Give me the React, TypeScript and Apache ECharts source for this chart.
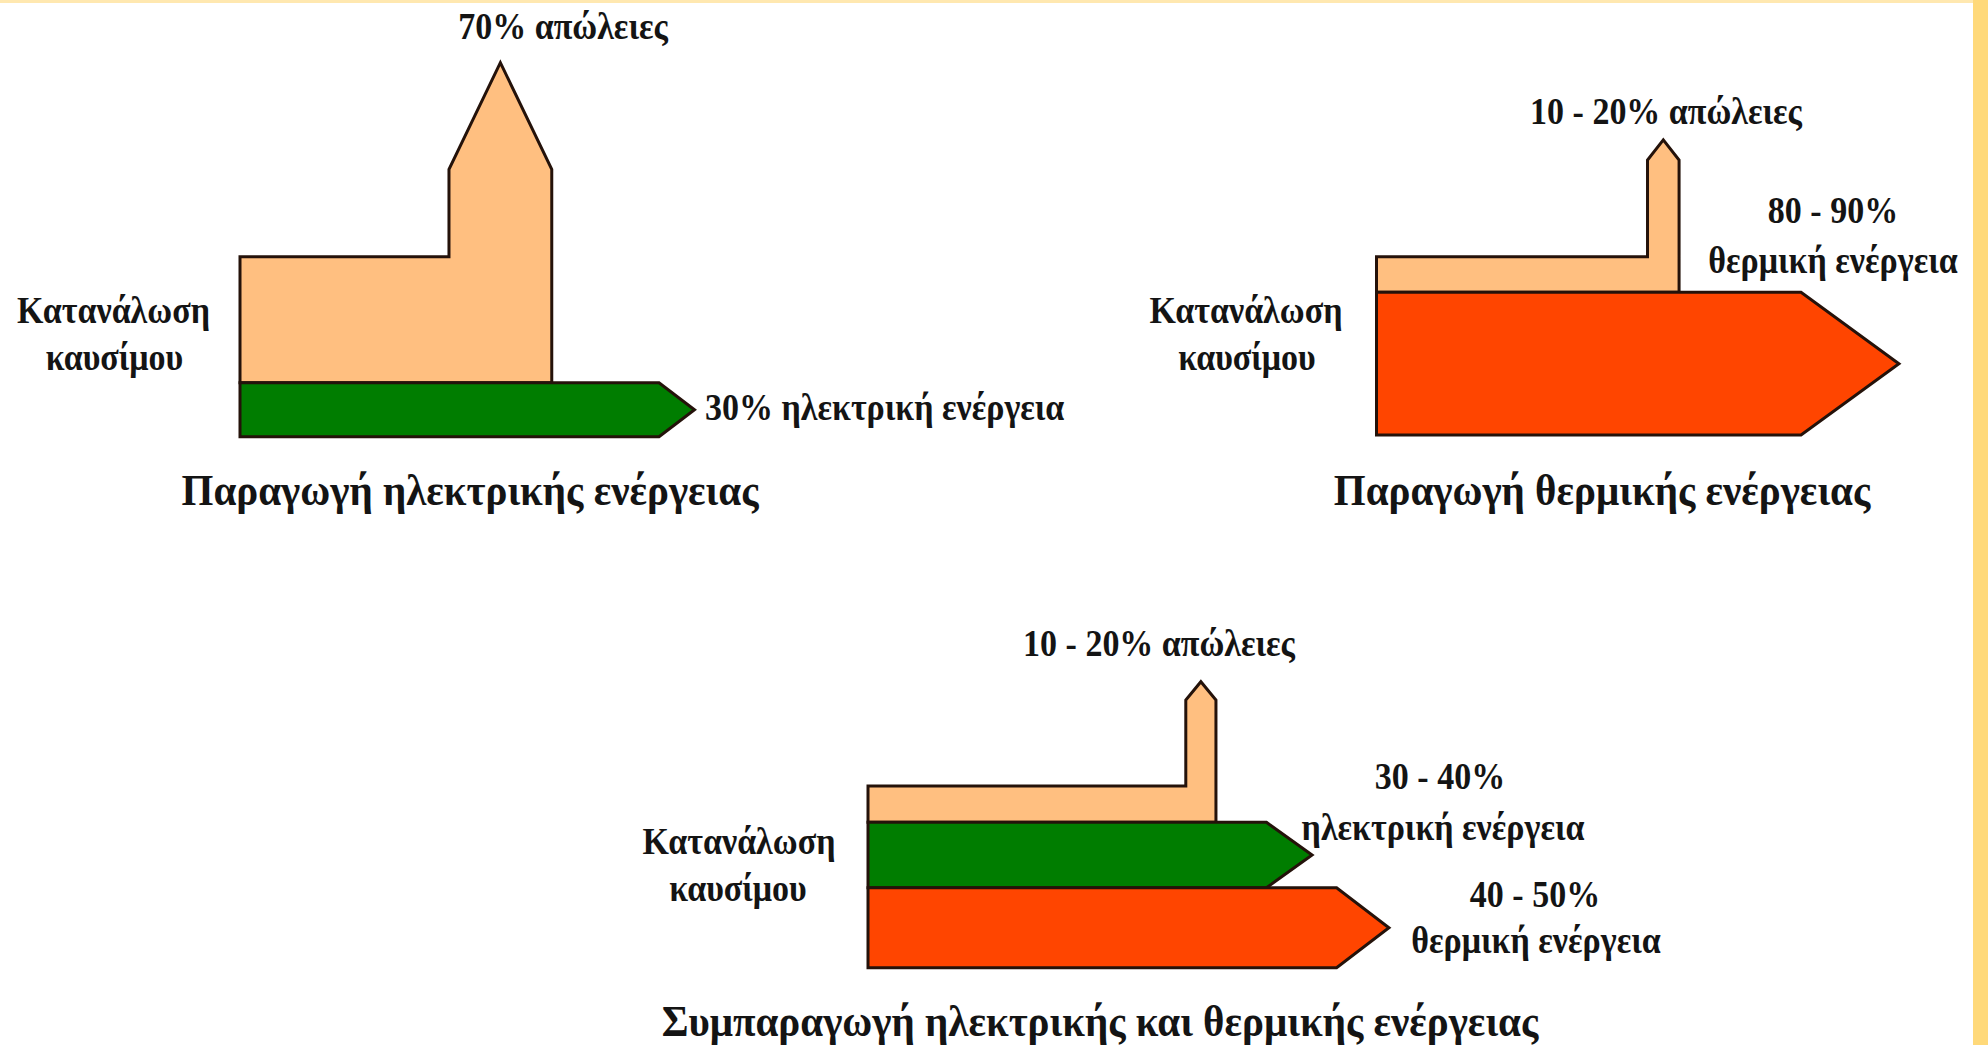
import React, { useEffect, useRef } from "react";
import * as echarts from "echarts";

// ---------------- DATA ----------------
const diagramTitles = [
  "Παραγωγή ηλεκτρικής ενέργειας",
  "Παραγωγή θερμικής ενέργειας",
  "Συμπαραγωγή ηλεκτρικής και θερμικής ενέργειας",
];
const fuelLabelLines = ["Κατανάλωση", "καυσίμου"];

// flow kinds: 0 = losses, 1 = electric energy, 2 = thermal energy
const d1Kinds = [0, 1];
const d1Shares = [70, 30];
const d1Labels = [["70% απώλειες"], ["30% ηλεκτρική ενέργεια"]];

const d2Kinds = [0, 2];
const d2Shares = [20, 80];
const d2Labels = [["10 - 20% απώλειες"], ["80 - 90%", "θερμική ενέργεια"]];

const d3Kinds = [0, 1, 2];
const d3Shares = [20, 36, 44];
const d3Labels = [
  ["10 - 20% απώλειες"],
  ["30 - 40%", "ηλεκτρική ενέργεια"],
  ["40 - 50%", "θερμική ενέργεια"],
];

// ---------------- STYLE / LAYOUT ----------------
const KIND_COLORS = ["#FFBF80", "#007D00", "#FF4500"];
const STROKE = "#24120a";
const TEXT_COLOR = "#141414";
const FONT_FAMILY = '"Liberation Serif", "DejaVu Serif", serif';
const LABEL_SIZE = 34;
const TITLE_SIZE = 41;
const TEXT_SCALE_Y = 1.1;

type Layout = {
  left: number;
  top: number;
  unit: number;
  tower: { stepX: number; rightX: number; shoulderY: number; peakY: number };
  arrows: (number[] | null)[];
  labelPos: number[][][];
  labelAlign: string[];
  fuelPos: number[][];
  titlePos: number[];
};

const layouts: Layout[] = [
  {
    left: 240,
    top: 256.7,
    unit: 1.8,
    tower: { stepX: 116.1, rightX: 173.2, shoulderY: 148.5, peakY: 207.8 },
    arrows: [null, [232.8, 252.5]],
    labelPos: [[[563, 26]], [[705, 407]]],
    labelAlign: ["center", "left"],
    fuelPos: [
      [113.5, 310],
      [114.5, 357],
    ],
    titlePos: [470, 490],
  },
  {
    left: 1376.5,
    top: 256.7,
    unit: 1.783,
    tower: { stepX: 152, rightX: 169.7, shoulderY: 154.2, peakY: 165.5 },
    arrows: [null, [238.1, 293]],
    labelPos: [
      [[1666, 111]],
      [
        [1833, 210],
        [1833, 260],
      ],
    ],
    labelAlign: ["center", "center"],
    fuelPos: [
      [1246, 310],
      [1247, 357],
    ],
    titlePos: [1602, 490],
  },
  {
    left: 868,
    top: 786,
    unit: 1.817,
    tower: { stepX: 174.9, rightX: 191.5, shoulderY: 147.3, peakY: 157.4 },
    arrows: [null, [219.3, 244.4], [257.9, 286.7]],
    labelPos: [
      [[1159, 643]],
      [
        [1440, 776],
        [1443, 827],
      ],
      [
        [1535, 894],
        [1536, 940],
      ],
    ],
    labelAlign: ["center", "center", "center"],
    fuelPos: [
      [739, 841],
      [738, 888],
    ],
    titlePos: [1100, 1021],
  },
];

const diagrams = [
  { kinds: d1Kinds, shares: d1Shares, labels: d1Labels },
  { kinds: d2Kinds, shares: d2Shares, labels: d2Labels },
  { kinds: d3Kinds, shares: d3Shares, labels: d3Labels },
];

const X_MAX = 300;

function textEl(txt: string, x: number, y: number, size: number, align: string) {
  return {
    type: "text",
    x,
    y,
    z: 10,
    scaleY: TEXT_SCALE_Y,
    style: {
      text: txt,
      font: `bold ${size}px ${FONT_FAMILY}`,
      fill: TEXT_COLOR,
      textAlign: align,
      textVerticalAlign: "middle",
    },
  };
}

function buildOption() {
  const grid: any[] = [];
  const xAxis: any[] = [];
  const yAxis: any[] = [];
  const series: any[] = [];
  const graphic: any[] = [];

  diagrams.forEach((d, i) => {
    const L = layouts[i];
    grid.push({
      left: L.left,
      top: L.top,
      width: X_MAX * L.unit,
      height: 100 * L.unit,
      containLabel: false,
    });
    xAxis.push({ gridIndex: i, type: "value", min: 0, max: X_MAX, show: false });
    yAxis.push({ gridIndex: i, type: "value", min: 0, max: 100, show: false });

    // stack flows from the top (100) downwards
    let acc = 100;
    const data = d.shares.map((s, j) => {
      const hi = acc;
      const lo = acc - s;
      acc = lo;
      return [j, lo, hi];
    });

    series.push({
      type: "custom",
      name: diagramTitles[i],
      coordinateSystem: "cartesian2d",
      xAxisIndex: i,
      yAxisIndex: i,
      clip: false,
      encode: { x: 0, y: [1, 2] },
      data,
      renderItem: (params: any, api: any) => {
        const j = params.dataIndex;
        const lo = api.value(1);
        const hi = api.value(2);
        const kind = d.kinds[j];
        const c = (x: number, y: number) => api.coord([x, y]);
        let pts: number[][];
        if (kind === 0) {
          const t = L.tower;
          pts = [
            c(0, hi),
            c(t.stepX, hi),
            c(t.stepX, t.shoulderY),
            c((t.stepX + t.rightX) / 2, t.peakY),
            c(t.rightX, t.shoulderY),
            c(t.rightX, lo),
            c(0, lo),
          ];
        } else {
          const a = L.arrows[j] as number[];
          pts = [c(0, hi), c(a[0], hi), c(a[1], (lo + hi) / 2), c(a[0], lo), c(0, lo)];
        }
        return {
          type: "polygon",
          shape: { points: pts },
          style: {
            fill: KIND_COLORS[kind],
            stroke: STROKE,
            lineWidth: 3,
            lineJoin: "miter",
          },
        };
      },
    });

    // flow labels
    d.labels.forEach((lines, j) => {
      lines.forEach((txt, k) => {
        const p = L.labelPos[j][k];
        graphic.push(textEl(txt, p[0], p[1], LABEL_SIZE, L.labelAlign[j]));
      });
    });

    // fuel input label
    fuelLabelLines.forEach((txt, k) => {
      const p = L.fuelPos[k];
      graphic.push(textEl(txt, p[0], p[1], LABEL_SIZE, "center"));
    });

    // diagram title
    graphic.push(textEl(diagramTitles[i], L.titlePos[0], L.titlePos[1], TITLE_SIZE, "center"));
  });

  // frame (yellow slide border)
  graphic.push({
    type: "rect",
    z: 0,
    shape: { x: 1973, y: 0, width: 15, height: 1045 },
    style: { fill: "#FFD97A" },
  });
  graphic.push({
    type: "rect",
    z: 0,
    shape: { x: 0, y: 0, width: 1973, height: 3 },
    style: { fill: "#FFE8B0" },
  });

  return {
    animation: false,
    backgroundColor: "#ffffff",
    grid,
    xAxis,
    yAxis,
    series,
    graphic,
  };
}

export default function App() {
  const ref = useRef<HTMLDivElement>(null);
  useEffect(() => {
    if (!ref.current) return;
    const chart = echarts.init(ref.current, undefined, { renderer: "svg" });
    chart.setOption(buildOption() as any);
    return () => {
      chart.dispose();
    };
  }, []);
  return (
    <div
      ref={ref}
      style={{
        position: "fixed",
        left: 0,
        top: 0,
        width: 1988,
        height: 1045,
        background: "#ffffff",
      }}
    />
  );
}
